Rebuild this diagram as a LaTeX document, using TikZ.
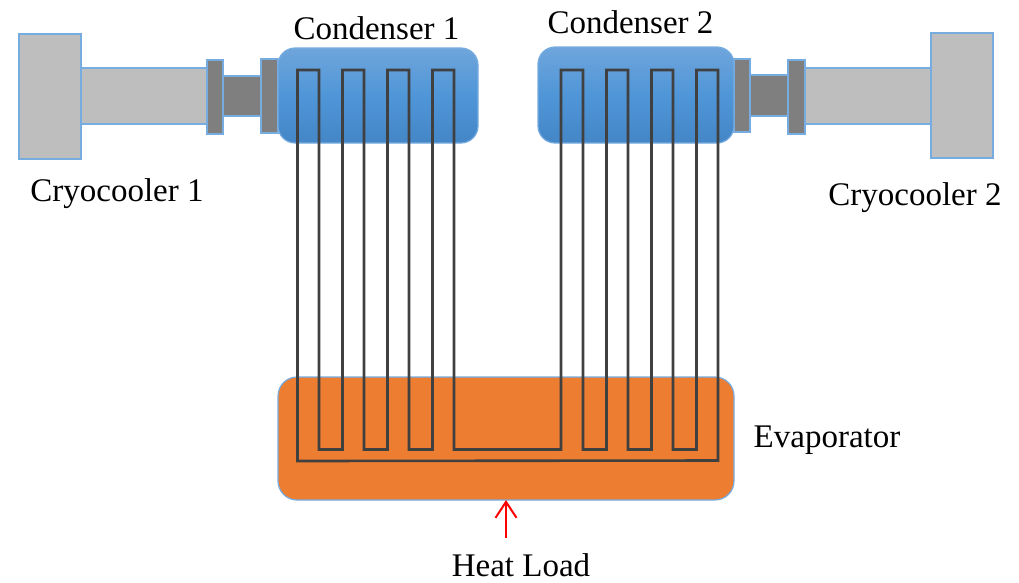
\documentclass[tikz,border=0pt]{standalone}
\usepackage{fontspec}
\setmainfont{Liberation Serif}
\usetikzlibrary{calc,arrows.meta}
\definecolor{edgeblue}{HTML}{76ACE0}
\definecolor{coldgray}{HTML}{BEBEBE}
\definecolor{neckgray}{HTML}{7F7F7F}
\definecolor{hotorange}{HTML}{ED7D31}
\definecolor{tubegray}{HTML}{404040}
\definecolor{topblue}{HTML}{6FA5DB}
\definecolor{midblue}{HTML}{4F96D8}
\definecolor{lowblue}{HTML}{4486C6}
\tikzset{
	part/.style={draw=edgeblue,line width=1.2pt,inner sep=0pt,outer sep=0pt},
	cooler/.style={part,fill=coldgray},
	neck/.style={part,fill=neckgray},
	condenser/.style={part,rounded corners=17pt,top color=topblue,bottom color=lowblue,middle color=midblue},
	lbl/.style={font=\fontsize{33}{38}\selectfont,inner sep=0pt}
}
\begin{document}
\begin{tikzpicture}[x=1pt,y=-1pt]
	\useasboundingbox (0,0) rectangle (1019,582);
	\node (block1) [cooler,minimum width=62pt,minimum height=125pt] at (50,96.5) {};
	\node (rod1) [cooler,minimum width=126pt,minimum height=56pt] at (144,96) {};
	\node (flangeA) [neck,minimum width=16pt,minimum height=74pt] at (215,97) {};
	\node (neck1) [neck,minimum width=38pt,minimum height=40pt] at (242,96) {};
	\node (flangeB) [neck,minimum width=17pt,minimum height=74pt] at (269.5,96) {};
	\node (block2) [cooler,minimum width=62pt,minimum height=125pt] at (962,95.5) {};
	\node (rod2) [cooler,minimum width=126pt,minimum height=56pt] at (868,96) {};
	\node (flangeD) [neck,minimum width=17pt,minimum height=74pt] at (796.5,97) {};
	\node (neck2) [neck,minimum width=38pt,minimum height=41pt] at (769,95.5) {};
	\node (flangeC) [neck,minimum width=16pt,minimum height=73pt] at (742,95.5) {};
	\node (cond1) [condenser,minimum width=200pt,minimum height=95pt] at (378,95.5) {};
	\node (cond2) [condenser,minimum width=196pt,minimum height=96pt] at (636,95) {};
	\node (evap) [part,rounded corners=19pt,fill=hotorange,minimum width=456pt,minimum height=123pt] at (506,438.5) {};
	\draw[tubegray,line width=2.6pt] (297.5,461) -- (297.5,70)
		\foreach \a/\b in {319/342.5,364/387.5,409/432.5}{ -- (\a,70) -- (\a,449.5) -- (\b,449.5) -- (\b,70)}
		-- (454,70) -- (454,449.5) -- (561,449.5) -- (561,70)
		\foreach \a/\b in {583/606.5,628/651.5,673/696.5}{ -- (\a,70) -- (\a,449.5) -- (\b,449.5) -- (\b,70)}
		-- (718,70) -- (718,460.5) -- cycle;
	\coordinate (heat) at (506,538);
	\draw[red,line width=2pt,-{Straight Barb[length=16pt,width=21pt]}] (heat) -- (evap.south);
	\node (cond1lbl) [lbl] at (376.5,28) {Condenser 1};
	\node (cond2lbl) [lbl] at (630.5,22) {Condenser 2};
	\node (cool1lbl) [lbl] at (117,194) {Cryocooler 1};
	\node (cool2lbl) [lbl] at (915,198) {Cryocooler 2};
	\node (evaplbl) [lbl] at (827,440) {Evaporator};
	\node (heatlbl) [lbl] at (521,565) {Heat Load};
\end{tikzpicture}
\end{document}
